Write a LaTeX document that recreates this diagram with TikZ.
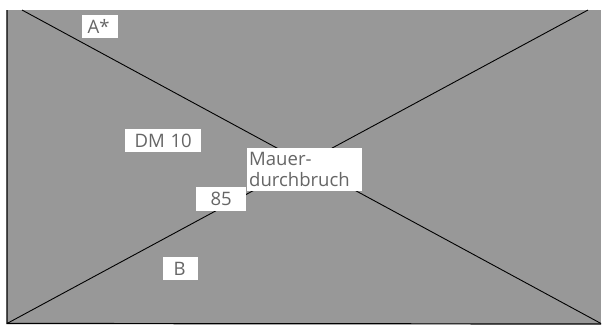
\documentclass[tikz,border=0pt]{standalone}
\usepackage{fontspec}
\setmainfont{Open Sans}
\definecolor{panel}{HTML}{989898}
\definecolor{lbl}{HTML}{666666}
\tikzset{
  x=1bp,y=-1bp,
  lab/.style={fill=white,text=lbl,inner sep=0pt,font=\fontsize{18.6}{21.5}\selectfont,anchor=north west},
  wire/.style={draw=black,line width=0.9bp}
}
\begin{document}
\begin{tikzpicture}
\useasboundingbox (0,0) rectangle (604,330);
\fill[panel] (7,10) rectangle (601,324);
\coordinate (tl) at (22,10);
\coordinate (br) at (601,323.5);
\coordinate (bl) at (7,323.5);
\coordinate (tr) at (588,10);
\coordinate (lt) at (7,10);
\coordinate (rb) at (601,324);
\draw[wire] (tl) -- (br);
\draw[wire] (bl) -- (tr);
\draw[black,line width=1.2bp] (lt) -- (bl) -- (rb);
\node[lab,minimum width=36bp,minimum height=23bp] (a) at (82,15) {\hspace{-3bp}A*};
\node[lab,minimum width=76bp,minimum height=23bp] (dm) at (125,129) {DM\hspace{1bp} 10};
\node[lab,minimum width=35bp,minimum height=23bp] (b) at (163,257) {\hspace{-2bp}B};
\node[lab,minimum width=50bp,minimum height=24bp] (n) at (196,187) {85};
\node[lab,minimum width=115bp,minimum height=43bp,align=left,inner xsep=2bp,text width=111bp] (m) at (247,147.5) {Mauer-\\durchbruch};
\end{tikzpicture}
\end{document}
